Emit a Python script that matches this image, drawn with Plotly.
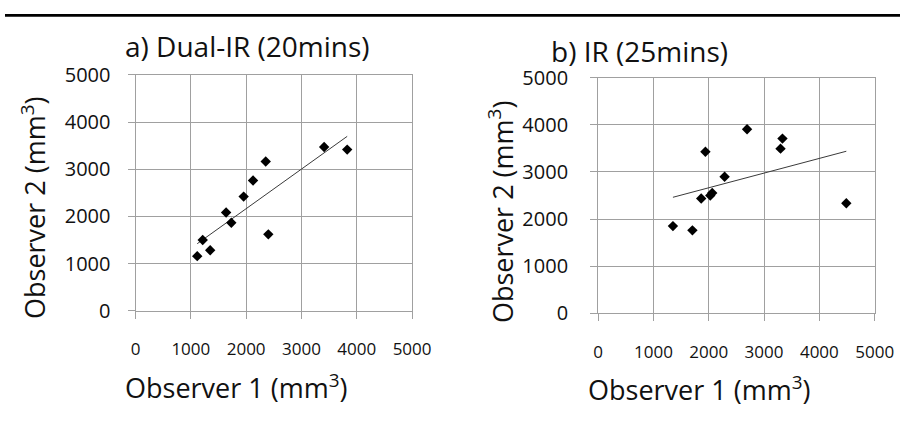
import numpy as np
import plotly.graph_objects as go

W, H = 919, 421

# Data (mm^3)
a_x = [1116, 1215, 1350, 1638, 1732, 1955, 2125, 2354, 2401, 3410, 3827]
a_y = [1156, 1499, 1281, 2081, 1863, 2418, 2761, 3164, 1618, 3469, 3415]
b_x = [1353, 1705, 1864, 1940, 2028, 2063, 2287, 2693, 3298, 3333, 4487]
b_y = [1853, 1762, 2437, 3430, 2502, 2556, 2900, 3906, 3495, 3708, 2337]

tick_vals = [0, 1000, 2000, 3000, 4000, 5000]
tick_text = ["0", "1000", "2000", "3000", "4000", "5000"]

panel_titles = ["a) Dual-IR (20mins)", "b) IR (25mins)"]
x_title = "Observer 1 (mm<sup>3</sup>)"
y_title = "Observer 2 (mm<sup>3</sup>)"

FONT = "Open Sans"
GRID = "#a0a0a0"


def px_x(p):
    return p / W


def px_y(p):
    return 1 - p / H


fig = go.Figure()


def trend(xs, ys):
    k, c = np.polyfit(xs, ys, 1)
    xs2 = [min(xs), max(xs)]
    return xs2, [k * v + c for v in xs2]


for i, (xs, ys) in enumerate([(a_x, a_y), (b_x, b_y)]):
    xa = "x" if i == 0 else "x2"
    ya = "y" if i == 0 else "y2"
    tx, ty = trend(xs, ys)
    fig.add_trace(go.Scatter(x=tx, y=ty, mode="lines", xaxis=xa, yaxis=ya,
                             line=dict(color="#3a3a3a", width=1), showlegend=False,
                             hoverinfo="skip"))
    fig.add_trace(go.Scatter(x=xs, y=ys, mode="markers", xaxis=xa, yaxis=ya,
                             marker=dict(symbol="diamond", size=8, color="black"),
                             showlegend=False))

# plot area pixel boxes: left, right, top, bottom
boxes = [(134, 418, 65, 317), (609, 893, 68, 320)]

common_x = dict(range=[0, 5000], tickvals=tick_vals, ticktext=tick_text,
                showgrid=True, gridcolor=GRID, gridwidth=1,
                showline=True, linecolor=GRID, linewidth=1, mirror=True,
                ticks="outside", ticklen=7, tickcolor=GRID,
                tickfont=dict(family=FONT, size=17, color="#111"),
                zeroline=False, fixedrange=True, ticklabelstandoff=16)
common_y = dict(range=[0, 5000], tickvals=tick_vals, ticktext=tick_text,
                showgrid=True, gridcolor=GRID, gridwidth=1,
                showline=True, linecolor=GRID, linewidth=1, mirror=True,
                ticks="outside", ticklen=7, tickcolor=GRID,
                tickfont=dict(family=FONT, size=20, color="#111"),
                zeroline=False, fixedrange=True)

(l0, r0, t0, b0), (l1, r1, t1, b1) = boxes
fig.update_layout(
    width=W, height=H, autosize=False,
    margin=dict(l=0, r=0, t=0, b=0),
    paper_bgcolor="white", plot_bgcolor="white",
    xaxis=dict(domain=[px_x(l0), px_x(r0)], anchor="y", **common_x),
    yaxis=dict(domain=[px_y(b0), px_y(t0)], anchor="x", ticklabelstandoff=13, **common_y),
    xaxis2=dict(domain=[px_x(l1), px_x(r1)], anchor="y2", **common_x),
    yaxis2=dict(domain=[px_y(b1), px_y(t1)], anchor="x2", ticklabelstandoff=18, **common_y),
)

ann = []
# panel titles
for txt, (cx, cy) in zip(panel_titles, [(249, 34), (652, 40)]):
    ann.append(dict(text=txt, x=px_x(cx), y=px_y(cy), xref="paper", yref="paper",
                    xanchor="center", yanchor="middle", showarrow=False,
                    font=dict(family=FONT, size=28, color="#111")))
# x axis titles
for cx, cy in [(237, 398), (713, 400)]:
    ann.append(dict(text=x_title, x=px_x(cx), y=px_y(cy), xref="paper", yref="paper",
                    xanchor="center", yanchor="middle", showarrow=False,
                    font=dict(family=FONT, size=27, color="#111")))
# y axis titles
for cx, cy in [(29, 207), (509, 212)]:
    ann.append(dict(text=y_title, x=px_x(cx), y=px_y(cy), xref="paper", yref="paper",
                    xanchor="center", yanchor="middle", showarrow=False, textangle=-90,
                    font=dict(family=FONT, size=27, color="#111")))
fig.update_layout(annotations=ann)

# black rule across the top
fig.add_shape(type="rect", xref="paper", yref="paper", x0=0, x1=1,
              y0=1 - 3 / H, y1=1, fillcolor="black", line=dict(width=0))

# remove the browser's default body margin so the figure fills the window exactly
fig.write_html("out.html",
               config={"displayModeBar": False},
               post_script="document.body.style.margin='0';"
                           "document.body.style.overflow='hidden';")
